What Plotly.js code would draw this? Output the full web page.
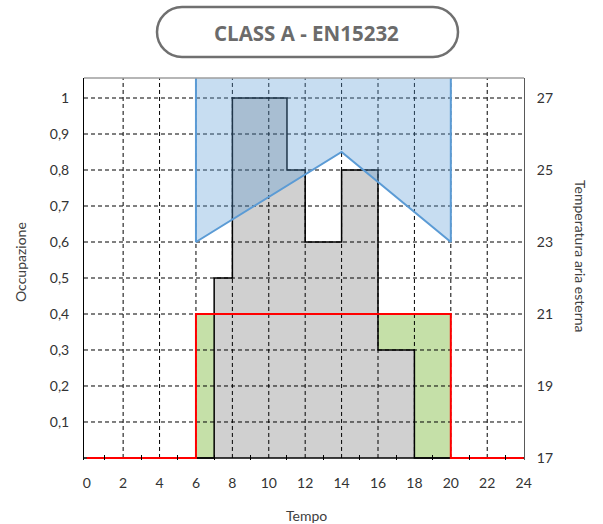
<!DOCTYPE html>
<html>
<head>
<meta charset="utf-8">
<script src="https://cdn.plot.ly/plotly-3.0.1.min.js"></script>
<style>
html,body{margin:0;padding:0;background:#fff;}
#chart{width:603px;height:524px;}
</style>
</head>
<body>
<div id="chart"></div>
<script>
// ---- data ----
const HOURS = [0,1,2,3,4,5,6,7,8,9,10,11,12,13,14,15,16,17,18,19,20,21,22,23,24];
const OCCUPANCY = [0,0,0,0,0,0,0,0.5,1,1,1,0.8,0.6,0.6,0.8,0.8,0.3,0.3,0,0,0,0,0,0,0];
const CONTROL = [0,0,0,0,0,0,0.4,0.4,0.4,0.4,0.4,0.4,0.4,0.4,0.4,0.4,0.4,0.4,0.4,0.4,0,0,0,0,0];
const TEMP_HOURS = [6,14,20];
const TEMP_OUT = [23,25.5,23];
const X_TICKS = [0,2,4,6,8,10,12,14,16,18,20,22,24];
const X_MINOR = [1,3,5,7,9,11,13,15,17,19,21,23];
const OCC_TICKS = [0.1,0.2,0.3,0.4,0.5,0.6,0.7,0.8,0.9,1];
const TEMP_TICKS = [17,19,21,23,25,27];

const TITLE = 'CLASS A - EN15232';
const X_TITLE = 'Tempo';
const Y_TITLE = 'Occupazione';
const Y2_TITLE = 'Temperatura aria esterna';

// ---- axis ranges ----
const Y_MIN = -0.0056, Y_MAX = 1.0556;
const T_MIN = 17 + Y_MIN * 10, T_MAX = 17 + Y_MAX * 10;
const X_MIN = -0.15, X_MAX = 24.02;

// gridline traces built from tick arrays
const hx = [], hy = [];
OCC_TICKS.forEach(v => { hx.push(X_MIN, X_MAX, null); hy.push(v, v, null); });
const vx = [], vy = [];
X_TICKS.filter(v => v > 0 && v < 24).forEach(v => { vx.push(v, v, null); vy.push(0, Y_MAX, null); });

const blueX = [TEMP_HOURS[0], ...TEMP_HOURS, TEMP_HOURS[TEMP_HOURS.length - 1]];
const blueY = [T_MAX, ...TEMP_OUT, T_MAX];

const DASH = '4px,3px';

const traces = [
  { x: HOURS, y: CONTROL, type: 'scatter', mode: 'lines', line: { shape: 'hv', width: 0 },
    fill: 'tozeroy', fillcolor: '#c5e0a8', hoverinfo: 'skip', showlegend: false },
  { x: HOURS, y: OCCUPANCY, type: 'scatter', mode: 'lines', line: { shape: 'hv', width: 1.5, color: '#000' },
    fill: 'tozeroy', fillcolor: '#d0d0d0', hoverinfo: 'skip', showlegend: false },
  { x: blueX, y: blueY, yaxis: 'y2', type: 'scatter', mode: 'lines', line: { width: 0 },
    fill: 'toself', fillcolor: 'rgba(91,155,213,0.34)', hoverinfo: 'skip', showlegend: false },
  { x: hx, y: hy, type: 'scatter', mode: 'lines', line: { color: '#000', width: 1, dash: DASH },
    hoverinfo: 'skip', showlegend: false },
  { x: vx, y: vy, type: 'scatter', mode: 'lines', line: { color: '#000', width: 1, dash: DASH },
    hoverinfo: 'skip', showlegend: false },
  { x: [X_MIN, X_MAX], y: [0, 0], type: 'scatter', mode: 'lines', line: { color: '#000', width: 1.3 },
    hoverinfo: 'skip', showlegend: false },
  { x: HOURS, y: CONTROL, type: 'scatter', mode: 'lines', line: { shape: 'hv', width: 2, color: '#ff0000' },
    hoverinfo: 'skip', showlegend: false },
  { x: blueX, y: blueY, yaxis: 'y2', type: 'scatter', mode: 'lines', line: { width: 2, color: '#5b9bd5' },
    hoverinfo: 'skip', showlegend: false }
];

// title box (rounded capsule) in pixel space converted to paper
const L = 84, T = 78, W = 440, B = 460, H = B - T;
function P(x, y) { return ((x - L) / W).toFixed(5) + ',' + ((B - y) / H).toFixed(5); }
const bx0 = 157, bx1 = 458, by0 = 7, by1 = 57, r = (by1 - by0) / 2, k = 0.5523 * r;
const boxPath = `M ${P(bx0 + r, by0)} L ${P(bx1 - r, by0)} C ${P(bx1 - r + k, by0)} ${P(bx1, by0 + r - k)} ${P(bx1, by0 + r)} ` +
  `C ${P(bx1, by0 + r + k)} ${P(bx1 - r + k, by1)} ${P(bx1 - r, by1)} L ${P(bx0 + r, by1)} ` +
  `C ${P(bx0 + r - k, by1)} ${P(bx0, by1 - r + k)} ${P(bx0, by1 - r)} C ${P(bx0, by0 + r - k)} ${P(bx0 + r - k, by0)} ${P(bx0 + r, by0)} Z`;

const FONT = 'Lato, "Open Sans", sans-serif';

const layout = {
  width: 603, height: 524,
  margin: { l: L, r: 603 - L - W, t: T, b: 524 - B },
  paper_bgcolor: '#fff', plot_bgcolor: '#fff',
  separators: ', ',
  font: { family: FONT, size: 14, color: '#333' },
  hovermode: false,
  showlegend: false,
  xaxis: {
    range: [X_MIN, X_MAX], tickmode: 'array', tickvals: X_TICKS, ticks: '',
    showgrid: false, zeroline: false, showline: false, ticklabelstandoff: 13,
    minor: { tickmode: 'array', tickvals: X_MINOR, ticks: 'inside', ticklen: 5, tickcolor: '#000', tickwidth: 1, showgrid: false },
    tickfont: { family: FONT, size: 14, color: '#333' }
  },
  yaxis: {
    range: [Y_MIN, Y_MAX], tickmode: 'array', tickvals: OCC_TICKS, ticks: '',
    showgrid: false, zeroline: false, showline: true, linecolor: '#000', linewidth: 1,
    ticklabelstandoff: 11, tickfont: { family: FONT, size: 14, color: '#333' }
  },
  yaxis2: {
    range: [T_MIN, T_MAX], overlaying: 'y', side: 'right', tickmode: 'array', tickvals: TEMP_TICKS, ticks: '',
    showgrid: false, zeroline: false, showline: true, linecolor: '#595959', linewidth: 1,
    ticklabelstandoff: 9, tickfont: { family: FONT, size: 14, color: '#333' }
  },
  shapes: [
    { type: 'line', xref: 'paper', yref: 'paper', x0: 0, x1: 1, y0: 1, y1: 1, line: { color: '#9e9e9e', width: 1.5 } },
    { type: 'path', xref: 'paper', yref: 'paper', path: boxPath, line: { color: '#707070', width: 2.5 }, fillcolor: 'rgba(0,0,0,0)' }
  ],
  annotations: [
    { xref: 'paper', yref: 'paper', x: (306 - L) / W, y: (B - 33) / H, text: '<b>' + TITLE + '</b>', showarrow: false,
      xanchor: 'center', yanchor: 'middle', font: { family: '"Open Sans", sans-serif', size: 20.5, color: '#6b6b6b' } },
    { xref: 'paper', yref: 'paper', x: (306 - L) / W, y: (B - 515) / H, text: X_TITLE, showarrow: false,
      xanchor: 'center', yanchor: 'middle', font: { family: FONT, size: 14, color: '#404040' } },
    { xref: 'paper', yref: 'paper', x: (20 - L) / W, y: (B - 262) / H, text: Y_TITLE, showarrow: false, textangle: -90,
      xanchor: 'center', yanchor: 'middle', font: { family: FONT, size: 14, color: '#404040' } },
    { xref: 'paper', yref: 'paper', x: (581 - L) / W, y: (B - 256) / H, text: Y2_TITLE, showarrow: false, textangle: 90,
      xanchor: 'center', yanchor: 'middle', font: { family: FONT, size: 14, color: '#404040' } }
  ]
};

Plotly.newPlot('chart', traces, layout, { staticPlot: true, displayModeBar: false });
</script>
</body>
</html>
